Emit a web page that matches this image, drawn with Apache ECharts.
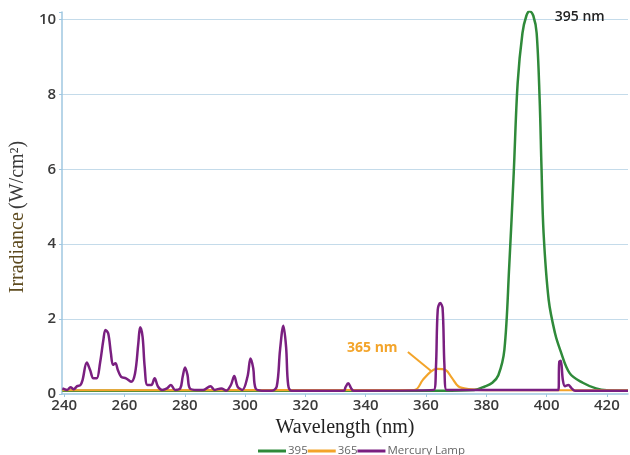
<!DOCTYPE html>
<html>
<head>
<meta charset="utf-8">
<script src="https://cdn.jsdelivr.net/npm/echarts@6/dist/echarts.min.js"></script>
<style>html,body{margin:0;padding:0;background:#fff;}#c{width:630px;height:455px;}</style>
</head>
<body>
<div id="c"></div>
<script>
// Wavelength (nm) / irradiance (W/cm²) pairs
const mercuryLamp = [
  [239.4,0.15],[241.0,0.11],[242.1,0.18],[243.2,0.13],[244.3,0.21],[245.4,0.24],[246.1,0.37],[247.5,0.84],
  [248.6,0.64],[249.7,0.42],[250.8,0.42],[251.9,0.83],[253.0,1.44],[253.7,1.71],[254.6,1.62],[255.5,1.09],
  [256.2,0.78],[257.0,0.82],[257.8,0.64],[258.9,0.46],[260.5,0.42],[262.2,0.33],[263.5,0.55],[264.6,1.36],
  [265.2,1.78],[266.0,1.53],[266.7,0.73],[267.6,0.24],[268.9,0.24],[270.0,0.42],[271.1,0.20],[272.5,0.11],
  [274.1,0.15],[275.4,0.24],[276.8,0.11],[278.5,0.15],[279.3,0.46],[280.1,0.71],[280.9,0.51],[281.7,0.15],
  [283.9,0.11],[286.1,0.11],[288.5,0.21],[289.9,0.11],[292.1,0.15],[293.7,0.09],[295.3,0.24],[296.4,0.48],
  [297.5,0.20],[299.1,0.11],[300.8,0.46],[301.8,0.95],[302.7,0.69],[303.5,0.15],[305.6,0.09],[308.9,0.09],
  [310.5,0.20],[311.6,1.18],[312.7,1.82],[313.6,1.26],[314.3,0.24],[315.4,0.09],[332.8,0.09],[333.3,0.18],
  [334.2,0.29],[335.2,0.15],[336.0,0.09],[362.6,0.11],[363.3,0.7],[363.9,2.25],[364.7,2.43],[365.5,2.3],
  [366.1,0.8],[366.8,0.11],
  [403.9,0.11],[404.2,0.86],[404.7,0.89],[405.4,0.37],[406.1,0.21],[407.2,0.24],[408.3,0.15],[409.4,0.09],
  [427.0,0.09]
];
const led395 = [
  [239.4,0.09],[365.0,0.09],[376.0,0.11],[379.5,0.2],[382.0,0.3],[384.0,0.5],[386.0,1.18],[387.6,3.4],
  [389.1,5.9],[390.4,8.3],[392.0,9.64],[393.3,10.1],[394.4,10.22],[395.6,10.1],[396.7,9.64],[397.7,7.86],[398.3,6.08],[399.0,4.3],
  [400.7,2.51],[402.8,1.62],[404.5,1.18],[407.7,0.55],[412.0,0.3],[416.4,0.15],[420.0,0.1],[427.0,0.09]
];
const led365 = [
  [239.4,0.1],[356.2,0.11],[358.9,0.37],[361.6,0.6],[363.7,0.67],[366.5,0.64],[368.6,0.43],[370.8,0.2],
  [374.1,0.13],[380.0,0.1],[427.0,0.1]
];
const seriesNames = ['395', '365', 'Mercury Lamp'];
const xTickValues = [240, 260, 280, 300, 320, 340, 360, 380, 400, 420];
const yTickValues = [0, 2, 4, 6, 8, 10];

const chart = echarts.init(document.getElementById('c'), null, {renderer: 'canvas'});
const axisBlue = '#9fc7e0';
const labelFont = {fontFamily: 'Open Sans', fontWeight: 600, fontSize: 15, color: '#3a3a3a'};

chart.setOption({
  animation: false,
  backgroundColor: '#ffffff',
  grid: {left: 53, right: 2, top: 12, bottom: 61},
  legend: {
    left: 253, top: 440,
    icon: 'rect', itemWidth: 28, itemHeight: 3, itemGap: 0,
    data: seriesNames,
    textStyle: {fontFamily: 'Open Sans', fontSize: 11.5, color: '#666', padding: [0, 0, 0, -3]}
  },
  xAxis: {
    type: 'value', min: 239.3, max: 427,
    name: 'Wavelength (nm)', nameLocation: 'middle', nameGap: 23,
    nameTextStyle: {fontFamily: 'Liberation Serif', fontSize: 20, color: '#222'},
    axisLine: {show: true, lineStyle: {color: axisBlue, width: 1.5}},
    axisTick: {show: true, length: 3, lineStyle: {color: axisBlue}, customValues: xTickValues},
    axisLabel: Object.assign({margin: 4, customValues: xTickValues}, labelFont),
    splitLine: {show: false}
  },
  yAxis: {
    type: 'value', min: 0, max: 10.2, interval: 2,
    name: '{a|Irradiance} {b|(W/cm²)}', nameLocation: 'middle', nameGap: 26,
    nameTextStyle: {
      padding: [0, 28, 0, 0],
      rich: {
        a: {fontFamily: 'Liberation Serif', fontSize: 20, color: '#5e4b1f'},
        b: {fontFamily: 'Liberation Serif', fontSize: 20, color: '#3a3a3a'}
      }
    },
    axisLine: {show: true, lineStyle: {color: axisBlue, width: 1.5}},
    axisTick: {show: true, length: 3, lineStyle: {color: axisBlue}},
    axisLabel: Object.assign({margin: 6, formatter: v => (yTickValues.indexOf(v) >= 0 ? String(v) : '')}, labelFont),
    splitLine: {show: true, showMaxLine: false, showMinLine: false, lineStyle: {color: '#c4dbea', width: 1}}
  },
  series: [
    {
      name: seriesNames[0], type: 'line', data: led395, showSymbol: false, symbol: 'none',
      smooth: 0.35,
      lineStyle: {color: '#2f8a3a', width: 2.5}, itemStyle: {color: '#2f8a3a'},
      markPoint: {
        symbol: 'circle', symbolSize: 0,
        data: [{coord: [411, 10.07], value: '395 nm'}],
        label: {show: true, position: 'inside', formatter: '395 nm',
          fontFamily: 'Open Sans', fontWeight: 600, fontSize: 14, color: '#222'}
      }
    },
    {
      name: seriesNames[1], type: 'line', data: led365, showSymbol: false, symbol: 'none',
      smooth: 0.35,
      lineStyle: {color: '#f3a42a', width: 2.2}, itemStyle: {color: '#f3a42a'},
      markLine: {
        silent: true, symbol: ['none', 'none'],
        lineStyle: {color: '#f3a42a', width: 2, type: 'solid'},
        label: {show: false},
        data: [[{coord: [354.0, 1.12]}, {coord: [361.8, 0.61]}]]
      },
      markPoint: {
        symbol: 'circle', symbolSize: 0,
        data: [{coord: [342.2, 1.23], value: '365 nm'}],
        label: {show: true, position: 'inside', formatter: '365 nm',
          fontFamily: 'Open Sans', fontWeight: 700, fontSize: 14, color: '#f3a42a'}
      }
    },
    {
      name: seriesNames[2], type: 'line', data: mercuryLamp, showSymbol: false, symbol: 'none',
      smooth: 0.35,
      lineStyle: {color: '#7a1f80', width: 2.5}, itemStyle: {color: '#7a1f80'}
    }
  ]
});
</script>
</body>
</html>
